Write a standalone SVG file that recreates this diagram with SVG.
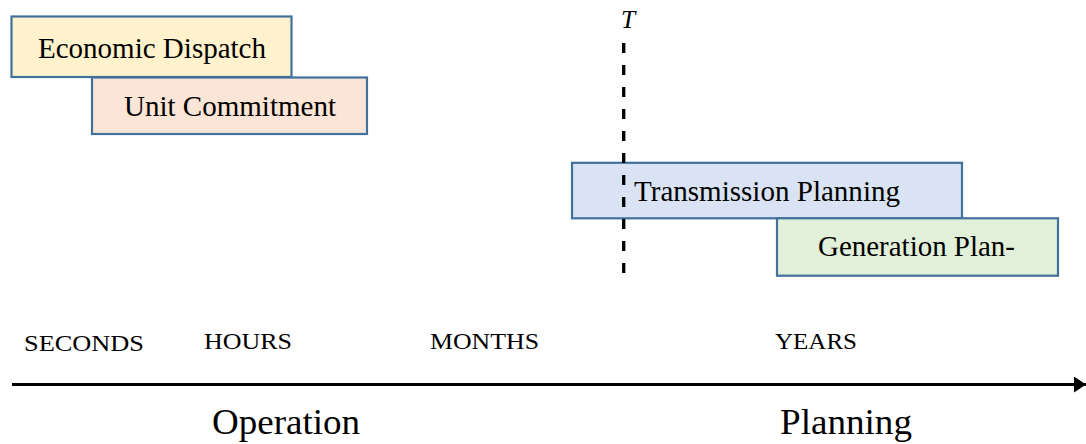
<svg xmlns="http://www.w3.org/2000/svg" width="1086" height="444" viewBox="0 0 1086 444">
  <style>
    .box { stroke: #41719C; stroke-width: 2.2; }
    .lbl { font-family: "Liberation Serif", "Times New Roman", serif; font-size: 28.7px; fill: #000; }
    .scale { font-family: "Liberation Serif", "Times New Roman", serif; font-size: 24px; fill: #000; }
    .phase { font-family: "Liberation Serif", "Times New Roman", serif; font-size: 36px; fill: #000; }
  </style>
  <defs>
    <marker id="arrow" markerUnits="userSpaceOnUse" markerWidth="14" markerHeight="16" refX="12" refY="8" orient="auto">
      <path d="M0,0 L12,8 L0,16 Z" fill="#000"/>
    </marker>
  </defs>
  <rect width="1086" height="444" fill="#fff"/>

  <g id="economic-dispatch">
    <rect class="box" x="11.5" y="16.5" width="280" height="60.5" fill="#FFF2CC"/>
    <text class="lbl" x="38" y="58" textLength="228" lengthAdjust="spacingAndGlyphs">Economic Dispatch</text>
  </g>
  <g id="unit-commitment">
    <rect class="box" x="92" y="77.5" width="275" height="56.5" fill="#FBE5D6"/>
    <text class="lbl" x="124" y="116" textLength="212" lengthAdjust="spacingAndGlyphs">Unit Commitment</text>
  </g>
  <g id="transmission-planning">
    <rect class="box" x="572" y="162.8" width="390" height="55.5" fill="#DAE3F3"/>
    <text class="lbl" x="634" y="201" textLength="266" lengthAdjust="spacingAndGlyphs">Transmission Planning</text>
  </g>
  <g id="generation-planning">
    <rect class="box" x="777" y="218.3" width="281" height="57.4" fill="#E2F0D9"/>
    <text class="lbl" x="818" y="256" textLength="197" lengthAdjust="spacingAndGlyphs">Generation Plan-</text>
  </g>

  <g id="time-marker">
    <text x="621" y="28" font-family="'Liberation Serif', 'Times New Roman', serif" font-style="italic" font-size="25.5">T</text>
  </g>

  <g id="connectors">
    <line x1="623.7" y1="43" x2="623.7" y2="276" stroke="#000" stroke-width="3.3" stroke-dasharray="10,12"/>
    <line x1="12" y1="384.5" x2="1086" y2="384.5" stroke="#000" stroke-width="2.8" marker-end="url(#arrow)"/>
  </g>

  <g id="scale-labels">
    <text class="scale" x="24" y="351" textLength="120" lengthAdjust="spacingAndGlyphs">SECONDS</text>
    <text class="scale" x="204" y="348.5" textLength="88" lengthAdjust="spacingAndGlyphs">HOURS</text>
    <text class="scale" x="430" y="348.5" textLength="109" lengthAdjust="spacingAndGlyphs">MONTHS</text>
    <text class="scale" x="775" y="348.5" textLength="82" lengthAdjust="spacingAndGlyphs">YEARS</text>
  </g>

  <g id="phase-labels">
    <text class="phase" x="212" y="434" textLength="148" lengthAdjust="spacingAndGlyphs">Operation</text>
    <text class="phase" x="780" y="434" textLength="132" lengthAdjust="spacingAndGlyphs">Planning</text>
  </g>
</svg>
